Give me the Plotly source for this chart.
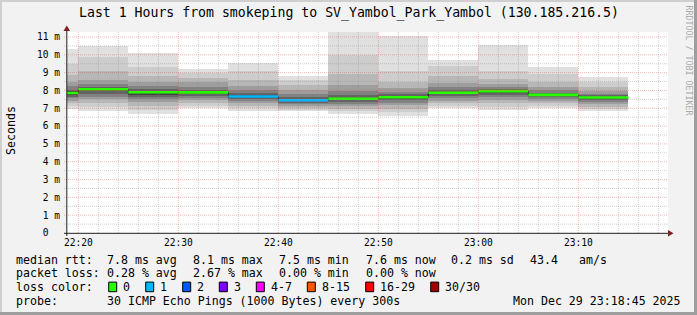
import plotly.graph_objects as go
from datetime import datetime, timedelta

# ---------------- data ----------------
segment_start = ["2025-12-29 22:15:00", "2025-12-29 22:20:00", "2025-12-29 22:25:00",
                 "2025-12-29 22:30:00", "2025-12-29 22:35:00", "2025-12-29 22:40:00",
                 "2025-12-29 22:45:00", "2025-12-29 22:50:00", "2025-12-29 22:55:00",
                 "2025-12-29 23:00:00", "2025-12-29 23:05:00", "2025-12-29 23:10:00"]
step_seconds = 300
median_ms = [7.86, 8.07, 7.90, 7.89, 7.66, 7.45, 7.53, 7.62, 7.87, 7.96, 7.75, 7.60]
loss_count = [0, 0, 0, 0, 1, 1, 0, 0, 0, 0, 0, 0]

# smoke bands, outermost (1) to innermost (7)
hi_1 = [10.33, 10.51, 10.08, 9.20, 9.54, 8.82, 11.28, 11.04, 9.70, 10.57, 9.31, 8.73]
hi_2 = [9.48, 9.90, 9.30, 9.00, 9.10, 8.60, 10.00, 9.10, 9.40, 9.10, 8.90, 8.50]
hi_3 = [8.88, 9.10, 8.80, 8.70, 8.60, 8.30, 8.90, 8.50, 8.80, 8.62, 8.50, 8.20]
hi_4 = [8.50, 8.60, 8.50, 8.45, 8.25, 8.00, 8.30, 8.12, 8.42, 8.36, 8.20, 7.97]
hi_5 = [8.25, 8.35, 8.25, 8.22, 8.00, 7.78, 7.95, 7.92, 8.18, 8.18, 8.00, 7.82]
hi_6 = [8.05, 8.20, 8.08, 8.05, 7.85, 7.62, 7.72, 7.78, 8.03, 8.08, 7.88, 7.72]
hi_7 = [7.95, 8.12, 7.97, 7.95, 7.74, 7.52, 7.60, 7.69, 7.94, 8.02, 7.80, 7.65]
lo_1 = [6.95, 6.85, 6.67, 7.00, 6.87, 6.82, 6.66, 6.59, 7.00, 6.91, 7.04, 6.82]
lo_2 = [7.10, 7.05, 6.90, 7.15, 7.00, 6.93, 6.83, 6.78, 7.14, 7.08, 7.14, 6.94]
lo_3 = [7.28, 7.28, 7.12, 7.32, 7.13, 7.03, 6.98, 6.98, 7.28, 7.28, 7.27, 7.08]
lo_4 = [7.42, 7.50, 7.35, 7.46, 7.27, 7.12, 7.12, 7.16, 7.42, 7.46, 7.40, 7.22]
lo_5 = [7.55, 7.65, 7.50, 7.58, 7.40, 7.22, 7.26, 7.32, 7.56, 7.62, 7.52, 7.35]
lo_6 = [7.66, 7.80, 7.62, 7.70, 7.50, 7.30, 7.37, 7.44, 7.68, 7.76, 7.61, 7.45]
lo_7 = [7.76, 7.95, 7.75, 7.80, 7.58, 7.38, 7.46, 7.54, 7.79, 7.88, 7.69, 7.53]

y_tick_values = [0, 1, 2, 3, 4, 5, 6, 7, 8, 9, 10, 11]
y_tick_labels = ["0\u00a0\u00a0", "1 m", "2 m", "3 m", "4 m", "5 m", "6 m", "7 m",
                 "8 m", "9 m", "10 m", "11 m"]
x_tick_values = ["2025-12-29 22:20:00", "2025-12-29 22:30:00", "2025-12-29 22:40:00",
                 "2025-12-29 22:50:00", "2025-12-29 23:00:00", "2025-12-29 23:10:00"]

loss_legend_labels = ["0", "1", "2", "3", "4-7", "8-15", "16-29", "30/30"]
loss_legend_colors = ["#26ff00", "#00b8ff", "#0059ff", "#7e00ff", "#ff00ff",
                      "#ff5500", "#ff0000", "#a10000"]

title_text = "Last 1 Hours from smokeping to SV_Yambol_Park_Yambol (130.185.216.5)"

# ---------------- layout geometry ----------------
W, H = 697, 315
ML, MR, MT, MB = 67, 29, 32, 82
PW = W - ML - MR
PH = H - MT - MB
BOTTOM = MT + PH


def px(xp):
    return (xp - ML) / PW


def py(yp):
    return (BOTTOM - yp) / PH


FONT = "DejaVu Sans Mono"
x_start = datetime(2025, 12, 29, 22, 18, 52)
x_end = x_start + timedelta(seconds=6 * PW)

starts = [datetime.strptime(s, "%Y-%m-%d %H:%M:%S") for s in segment_start]
step = timedelta(seconds=step_seconds)
centers = [s + step / 2 for s in starts]
ends = [s + step for s in starts]

fig = go.Figure()

band_hi = [hi_1, hi_2, hi_3, hi_4, hi_5, hi_6, hi_7]
band_lo = [lo_1, lo_2, lo_3, lo_4, lo_5, lo_6, lo_7]
band_col = ["#e0e0e0", "#cdcdcd", "#b7b7b7", "#9d9d9d", "#828282", "#646464", "#454545"]
for hi, lo, col in zip(band_hi, band_lo, band_col):
    fig.add_trace(go.Bar(
        x=centers, y=[h - l for h, l in zip(hi, lo)], base=lo,
        width=[step_seconds * 1000] * len(starts),
        marker=dict(color=col, line=dict(width=0)),
        hoverinfo="skip", showlegend=False))

# dark median step line
fig.add_trace(go.Scatter(
    x=starts + [ends[-1]], y=median_ms + [median_ms[-1]],
    mode="lines", line=dict(color="#202020", width=1, shape="hv"),
    hoverinfo="skip", showlegend=False))

# loss-coloured median segments
for lc, col in [(0, loss_legend_colors[0]), (1, loss_legend_colors[1])]:
    xs, ys = [], []
    for s, e, m, l in zip(starts, ends, median_ms, loss_count):
        if l == lc:
            xs += [s, e, None]
            ys += [m, m, None]
    fig.add_trace(go.Scatter(x=xs, y=ys, mode="lines",
                             line=dict(color=col, width=2.6),
                             hoverinfo="skip", showlegend=False))

shapes = []
GRID = "rgba(143,143,143,0.42)"
MGRID = "rgba(222,72,72,0.38)"
# vertical grid every 2 minutes
t = datetime(2025, 12, 29, 22, 20)
while t < x_end:
    major = (t.minute % 10 == 0)
    shapes.append(dict(type="line", xref="x", yref="paper", x0=t, x1=t, y0=0, y1=1,
                       line=dict(color=MGRID if major else GRID, width=1, dash="1px,1px"),
                       layer="above"))
    t += timedelta(minutes=2)
# horizontal grid every 0.5
for k in range(1, 23):
    v = k * 0.5
    major = (k % 2 == 0)
    shapes.append(dict(type="line", xref="paper", yref="y", x0=px(64), x1=1, y0=v, y1=v,
                       line=dict(color=MGRID if major else GRID, width=1, dash="1px,1px"),
                       layer="above"))
# axes
shapes.append(dict(type="line", xref="paper", yref="paper", x0=px(64), x1=px(670),
                   y0=py(233.3), y1=py(233.3), line=dict(color="#1f1f1f", width=1), layer="above"))
shapes.append(dict(type="line", xref="paper", yref="paper", x0=px(66.8), x1=px(66.8),
                   y0=py(236), y1=py(28), line=dict(color="#1f1f1f", width=1), layer="above"))
# arrows
shapes.append(dict(type="path", xref="paper", yref="paper",
                   path="M {} {} L {} {} L {} {} Z".format(px(668), py(230), px(673.5), py(233.3),
                                                          px(668), py(236.6)),
                   fillcolor="#7f1f1f", line=dict(width=0), layer="above"))
shapes.append(dict(type="path", xref="paper", yref="paper",
                   path="M {} {} L {} {} L {} {} Z".format(px(63.5), py(31), px(66.8), py(25.5),
                                                          px(70.1), py(31)),
                   fillcolor="#7f1f1f", line=dict(width=0), layer="above"))
# frame
shapes.append(dict(type="rect", xref="paper", yref="paper", x0=px(0), x1=px(W), y0=py(0), y1=py(2),
                   fillcolor="#cfcfcf", line=dict(width=0), layer="above"))
shapes.append(dict(type="rect", xref="paper", yref="paper", x0=px(0), x1=px(2), y0=py(0), y1=py(H),
                   fillcolor="#cfcfcf", line=dict(width=0), layer="above"))
shapes.append(dict(type="rect", xref="paper", yref="paper", x0=px(0), x1=px(W), y0=py(H - 3), y1=py(H),
                   fillcolor="#9e9e9e", line=dict(width=0), layer="above"))
shapes.append(dict(type="rect", xref="paper", yref="paper", x0=px(W - 3), x1=px(W), y0=py(0), y1=py(H),
                   fillcolor="#9e9e9e", line=dict(width=0), layer="above"))

annotations = []


def text(x, y, s, size=11.6, anchor="left", color="#000000", angle=0):
    annotations.append(dict(xref="paper", yref="paper", x=px(x), y=py(y), text=s,
                            showarrow=False, xanchor=anchor, yanchor="middle",
                            font=dict(family=FONT, size=size, color=color),
                            textangle=angle, borderpad=0, borderwidth=0))


text(348.5, 13.5, title_text, size=13.2, anchor="center")
text(688.5, 60, "RRDTOOL / TOBI OETIKER", size=8.3, anchor="center", color="#ababab", angle=90)
text(11, 131, "Seconds", size=11.6, anchor="center", angle=-90)

y1, y2, y3, y4 = 259.5, 273.3, 286.9, 301.2
for x, s in [(16, "median rtt:"), (107.3, "7.8 ms avg"), (193.3, "8.1 ms max"),
             (279, "7.5 ms min"), (365.7, "7.6 ms now"), (451, "0.2 ms sd"),
             (530, "43.4"), (579.3, "am/s")]:
    text(x, y1, s)
for x, s in [(16, "packet loss:"), (107.3, "0.28 % avg"), (193.3, "2.67 % max"),
             (279, "0.00 % min"), (365.7, "0.00 % now")]:
    text(x, y2, s)
text(16, y3, "loss color:")
box_x = [108.7, 145.7, 182.7, 219.3, 256.3, 307.3, 365.7, 430.7]
for bx, lab, col in zip(box_x, loss_legend_labels, loss_legend_colors):
    shapes.append(dict(type="rect", xref="paper", yref="paper",
                       x0=px(bx), x1=px(bx + 8), y0=py(y3 + 4.8), y1=py(y3 - 4.8),
                       fillcolor=col, line=dict(color="#000000", width=1), layer="above"))
    text(bx + 14.5, y3, lab)
text(16, y4, "probe:")
text(107.3, y4, "30 ICMP Echo Pings (1000 Bytes) every 300s")
text(680.5, y4, "Mon Dec 29 23:18:45 2025", anchor="right")

fig.update_layout(
    width=W, height=H,
    margin=dict(l=ML, r=MR, t=MT, b=MB, pad=0),
    paper_bgcolor="#f2f2f2", plot_bgcolor="#ffffff",
    barmode="overlay", bargap=0, showlegend=False,
    shapes=shapes, annotations=annotations,
    xaxis=dict(type="date", range=[x_start, x_end], tickvals=x_tick_values,
               tickformat="%H:%M", showgrid=False, zeroline=False, showline=False,
               ticks="", ticklabelstandoff=2,
               tickfont=dict(family=FONT, size=9.6, color="#000000"), fixedrange=True),
    yaxis=dict(range=[0, 11.28], tickvals=y_tick_values, ticktext=y_tick_labels,
               showgrid=False, zeroline=False, showline=False, ticks="",
               ticklabelstandoff=6,
               tickfont=dict(family=FONT, size=9.6, color="#000000"), fixedrange=True),
)

fig.write_html("out.html")
